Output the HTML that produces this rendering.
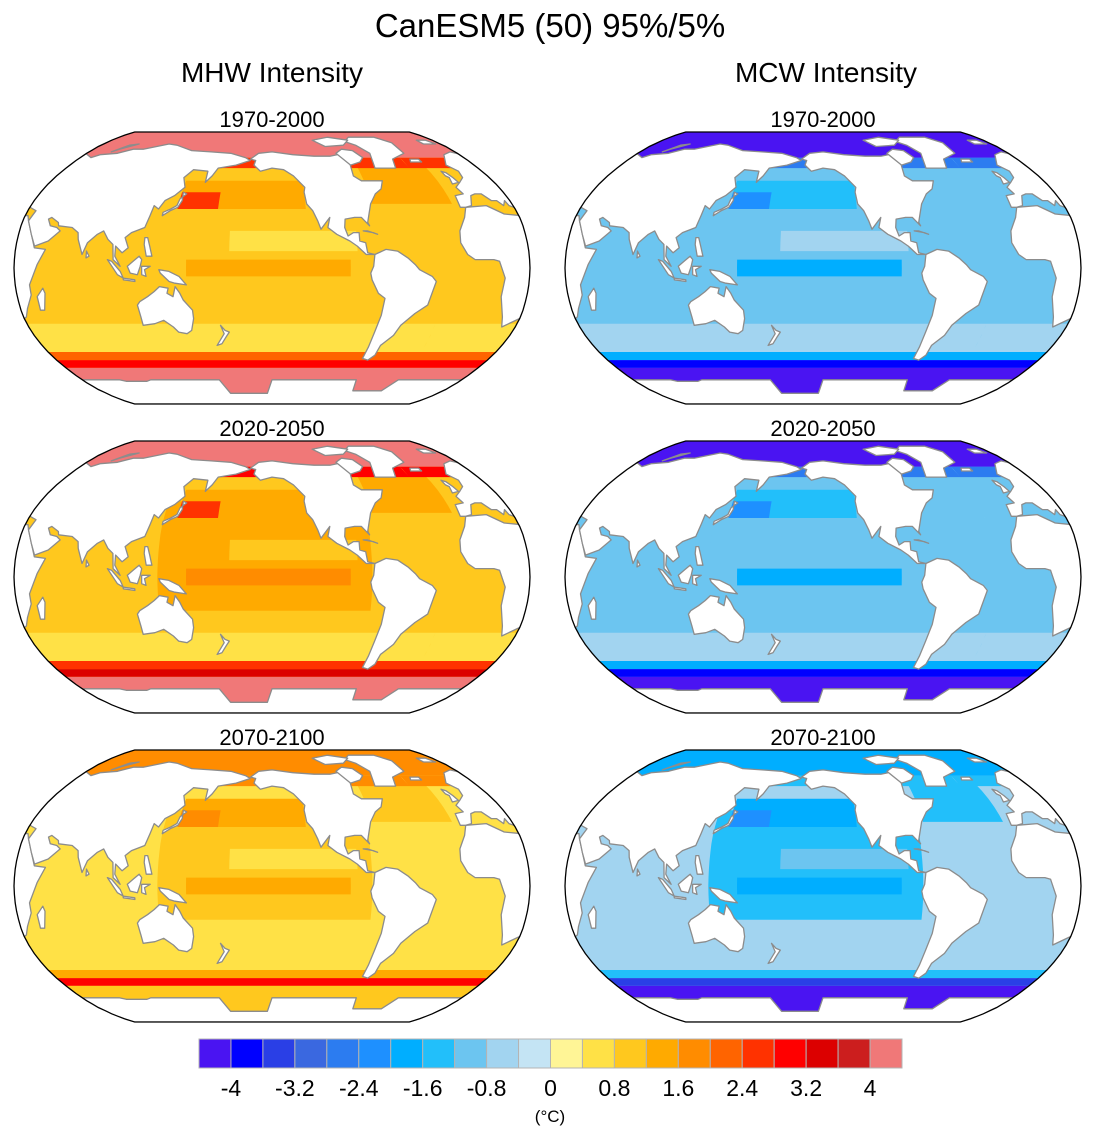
<!DOCTYPE html>
<html><head><meta charset="utf-8">
<style>
html,body{margin:0;padding:0;background:#fff;}
body{width:1100px;height:1139px;overflow:hidden;font-family:"Liberation Sans",sans-serif;}
</style></head>
<body>
<svg id="fig" width="1100" height="1139" viewBox="0 0 1100 1139" xmlns="http://www.w3.org/2000/svg" font-family="Liberation Sans, sans-serif">
<text x="550" y="37" font-size="33" text-anchor="middle">CanESM5 (50) 95%/5%</text>
<text x="272" y="82" font-size="28" text-anchor="middle">MHW Intensity</text>
<text x="826" y="82" font-size="28" text-anchor="middle">MCW Intensity</text>
<g id="maps"></g>
<g id="cbar"></g>
</svg>
<script>
// colour scale
const levels = [-4,-3.6,-3.2,-2.8,-2.4,-2,-1.6,-1.2,-0.8,-0.4,0,0.4,0.8,1.2,1.6,2,2.4,2.8,3.2,3.6,4];
const colors = ["#4a14f2","#0000ff","#2a3fe6","#3a68e0","#2c7cf0","#1e90ff","#00aeff","#22bffa","#6cc5f0","#a2d4f0","#c4e4f4","#fff596","#ffe146","#ffc81e","#ffaa00","#ff8c00","#ff6400","#ff3200","#ff0000","#dc0000","#cc1e1e","#f07878"];
const tickLabels = ["-4","-3.2","-2.4","-1.6","-0.8","0","0.8","1.6","2.4","3.2","4"];
// region boxes in lon/lat (lon0, lon1, lat0, lat1)
const regionLon0 = [-30,-30,130,140,140,150,285,-30,-30,-30,-30,-30,180];
const regionLon1 = [330,330,280,235,170,265,345,330,330,330,330,330,270];
const regionLat0 = [-90,-50,-20,35,35,-5,38,60,67,-55,-60,-90,10];
const regionLat1 = [90,-33,45,52,45,5,62,67,90,-50,-55,-60,22];
// panel values (°C) per region
const panelTitles = ["1970-2000","2020-2050","2070-2100","1970-2000","2020-2050","2070-2100"];
const mhw1970 = [1.0,0.6,1.0,1.4,2.6,1.4,1.4,2.6,4.5,2.2,3.0,4.5,0.6];
const mhw2020 = [1.0,0.6,1.4,1.4,2.4,1.8,1.4,2.8,4.5,2.4,3.4,4.5,1.0];
const mhw2070 = [0.6,0.6,1.0,1.4,1.8,1.4,1.0,1.8,1.8,1.4,3.0,1.0,0.6];
const mcw1970 = [-1.0,-0.6,-1.0,-1.4,-2.2,-1.8,-1.0,-2.8,-4.5,-1.8,-3.8,-4.5,-0.6];
const mcw2020 = [-1.0,-0.6,-1.2,-1.4,-2.2,-1.8,-1.0,-2.8,-4.5,-1.8,-3.8,-4.5,-1.0];
const mcw2070 = [-0.6,-0.6,-1.4,-1.8,-2.2,-1.8,-1.4,-1.4,-1.8,-1.4,-3.4,-4.5,-1.0];
const panelValues = [mhw1970,mhw2020,mhw2070,mcw1970,mcw2020,mcw2070];

const NS="http://www.w3.org/2000/svg";
function mk(t,a,p){const e=document.createElementNS(NS,t);for(const k in a)e.setAttribute(k,a[k]);if(p)p.appendChild(e);return e;}
function colorFor(v){let i=0;while(i<levels.length&&v>=levels[i])i++;return colors[i];}

const PLEN=[1,0.9986,0.9954,0.99,0.9822,0.973,0.96,0.9427,0.9216,0.8962,0.8679,0.835,0.7986,0.7597,0.7186,0.6732,0.6213,0.5722,0.5322];
const PDFE=[0,0.062,0.124,0.186,0.248,0.31,0.372,0.434,0.4958,0.5571,0.6176,0.6769,0.7346,0.7903,0.8435,0.8936,0.9394,0.9761,1.0];
function interp(t,lat){const a=Math.min(Math.abs(lat),90)/5;const i=Math.min(Math.floor(a),17);const f=a-i;return t[i]+(t[i+1]-t[i])*f;}
const LON0=210, HW=258, HH=136;
function projRaw(cx,cy,d,lat){return [cx+d/180*HW*interp(PLEN,lat), cy-Math.sign(lat)*interp(PDFE,lat)*HH];}
function toD(pts){return pts.map(q=>q[0].toFixed(1)+","+q[1].toFixed(1)).join("L");}
function boxPath(cx,cy,l0,l1,a0,a1,sh){const p=[];const D=l=>l-LON0+sh;
 for(let l=l0;l<=l1;l+=5)p.push(projRaw(cx,cy,D(l),a1));
 for(let a=a1;a>=a0;a-=5)p.push(projRaw(cx,cy,D(l1),a));
 for(let l=l1;l>=l0;l-=5)p.push(projRaw(cx,cy,D(l),a0));
 for(let a=a0;a<=a1;a+=5)p.push(projRaw(cx,cy,D(l0),a));
 return "M"+toD(p)+"Z";}

const lands = {
 africa:[[-17,15],[-16,22],[-10,30],[-6,36],[10,37],[20,32],[32,31],[34,28],[43,12],[51,11],[46,2],[40,-10],[40,-16],[35,-24],[32,-29],[20,-35],[17,-29],[12,-17],[13,-6],[9,4],[5,5],[-8,5],[-13,8],[-17,15]],
 eurasia:[[-10,36],[-9,43],[-2,44],[-4,48],[2,51],[8,54],[10,58],[5,62],[15,69],[25,71],[40,67],[45,69],[60,70],[70,73],[80,73],[100,77],[110,76],[130,72],[150,71],[170,70],[185,67],[190,65],[178,62],[163,60],[160,55],[156,51],[155,58],[142,59],[137,54],[141,48],[135,43],[129,40],[126,35],[122,37],[121,31],[119,24],[110,21],[106,18],[109,12],[105,9],[100,13],[100,7],[104,1],[99,5],[98,14],[94,17],[90,22],[86,20],[80,15],[77,8],[73,17],[72,21],[67,24],[57,25],[56,27],[50,30],[48,29],[51,25],[56,24],[59,22],[52,16],[43,13],[39,20],[34,28],[36,34],[27,37],[26,40],[23,37],[20,40],[16,40],[12,44],[7,44],[3,43],[-1,37],[-6,36],[-10,36]],
 namerica:[[190,66],[197,70],[210,71],[230,69],[250,68],[265,68],[280,70],[280,63],[278,55],[283,52],[292,52],[300,52],[296,47],[290,44],[284,38],[281,32],[279,27],[280,25],[277,28],[275,30],[270,30],[263,29],[262,24],[264,19],[268,21],[272,21],[272,16],[276,15],[277,9],[282,8],[280,8],[276,8],[270,13],[265,16],[256,20],[250,24],[252,30],[245,23],[243,28],[240,34],[236,38],[235,45],[236,48],[228,55],[220,59],[210,60],[200,58],[197,60],[194,62],[195,65]],
 greenland:[[300,60],[318,60],[322,66],[338,70],[340,78],[330,83],[300,83],[290,79],[298,76],[305,70]],
 samerica:[[282,8],[290,11],[298,10],[305,6],[310,2],[313,-1],[322,-5],[325,-8],[321,-22],[313,-27],[305,-34],[302,-40],[295,-46],[294,-52],[290,-55],[285,-54],[286,-47],[287,-38],[289,-28],[290,-18],[285,-15],[280,-7],[279,-3],[281,1],[282,8]],
 australia:[[114,-22],[116,-20],[122,-17],[127,-14],[131,-11],[137,-12],[136,-15],[140,-17],[142,-11],[145,-15],[147,-19],[153,-25],[153,-30],[150,-37],[146,-39],[140,-38],[137,-35],[131,-31],[124,-33],[115,-34],[115,-29],[114,-22]],
 borneo:[[109,1],[113,4],[117,7],[119,5],[118,1],[116,-4],[111,-3],[109,1]],
 sumatra:[[95,5],[98,4],[104,-2],[106,-6],[102,-4],[95,5]],
 java:[[106,-6],[114,-7],[114,-8],[106,-7]],
 newguinea:[[131,-1],[138,-2],[145,-5],[150,-10],[142,-9],[138,-8],[132,-3]],
 sulawesi:[[119,1],[125,1],[121,-1],[122,-5],[119,-4]],
 philippines:[[120,18],[122,18],[124,13],[126,7],[122,7],[120,14]],
 japan:[[130,31],[135,34],[140,36],[142,40],[141,45],[144,44],[140,41],[139,37],[135,35],[130,33]],
 madagascar:[[44,-25],[47,-25],[50,-15],[49,-12],[44,-17]],
 nz:[[172,-34],[175,-37],[178,-38],[175,-41],[171,-45],[167,-46],[171,-42],[174,-39]],
 uk:[[-5,50],[1,51],[0,54],[-2,57],[-5,58],[-5,55],[-3,54]],
 srilanka:[[80,6],[82,7],[80,10]],
 iceland:[[-24,64],[-14,64],[-14,66],[-22,66]],
 novaya:[[52,71],[60,76],[68,77],[56,73]],
 svalbard:[[12,77],[25,77],[22,80],[12,80]],
 baffin:[[280,62],[290,64],[295,67],[290,72],[280,73],[272,70]],
 ellesmere:[[265,75],[285,76],[295,80],[275,83],[255,80]],
 cuba:[[275,22],[282,21],[285,20],[278,22]],
};
function antarctica(){const p=[];for(let l=LON0-190;l<=LON0+190;l+=5){const m=((l%360)+360)%360;let a=-68;if(m>=165&&m<=205)a=-78;else if(m>=295&&m<=325)a=-76;else if(m>=70&&m<=90)a=-69;p.push([l,a]);}p.push([LON0+190,-91],[LON0-190,-91]);return p;}

const maps=document.getElementById('maps');
const centers=[[272,268],[272,577],[272,886],[823,268],[823,577],[823,886]];
const shifts=[-360,0,360];
centers.forEach((c,pi)=>{
 const [cx,cy]=c;
 const g=mk('g',{},maps);
 
 
 const t=mk('text',{x:cx,y:cy-141,'font-size':22,'text-anchor':'middle'},g);
 
 
 t.textContent=panelTitles[pi];
 const op=[];for(let a=90;a>=-90;a-=2.5)op.push(projRaw(cx,cy,180,a));for(let a=-90;a<=90;a+=2.5)op.push(projRaw(cx,cy,-180,a));
 const od="M"+toD(op)+"Z";
 const cp=mk('clipPath',{id:'clip'+pi},g);mk('path',{d:od},cp);
 const inner=mk('g',{'clip-path':'url(#clip'+pi+')'},g);
 const vals=panelValues[pi];
 vals.forEach((v,ri)=>{
  let d="";shifts.forEach(sh=>{d+=boxPath(cx,cy,regionLon0[ri],regionLon1[ri],regionLat0[ri],regionLat1[ri],sh);});
  const r=mk('path',{d:d,fill:colorFor(v)},inner);
  
  
 });
 for(const k in lands){
  let d="";
  shifts.forEach(sh=>{const pts=lands[k].map(q=>projRaw(cx,cy,q[0]-LON0+sh,q[1]));d+="M"+toD(pts)+"Z";});
  const lp=mk('path',{d:d,fill:'#fff',stroke:'#8c8c8c','stroke-width':1.3,'stroke-linejoin':'round'},inner);
  
  
 }
 const ant=antarctica().map(q=>projRaw(cx,cy,q[0]-LON0,q[1]));
 const ap=mk('path',{d:"M"+toD(ant)+"Z",fill:'#fff',stroke:'#8c8c8c','stroke-width':1.3,'stroke-linejoin':'round'},inner);
 
 
 const o=mk('path',{d:od,fill:'none',stroke:'#000','stroke-width':1.3},g);
 
 
});

// colorbar
const cb=document.getElementById('cbar');
const x0=199,x1=902,y0=1039,h=29,bw=(x1-x0)/colors.length;
colors.forEach((c,i)=>{
 const r=mk('rect',{x:x0+i*bw,y:y0,width:bw,height:h,fill:c,stroke:'#b4b4b4','stroke-width':1},cb);
 
 
});
tickLabels.forEach((s,i)=>{
 const t=mk('text',{x:x0+(1+2*i)*bw,y:1096,'font-size':23,'text-anchor':'middle'},cb);
 
 
 t.textContent=s;
});
const u=mk('text',{x:550,y:1122,'font-size':17,'text-anchor':'middle'},cb);


u.textContent="(°C)";
</script>
</body></html>
